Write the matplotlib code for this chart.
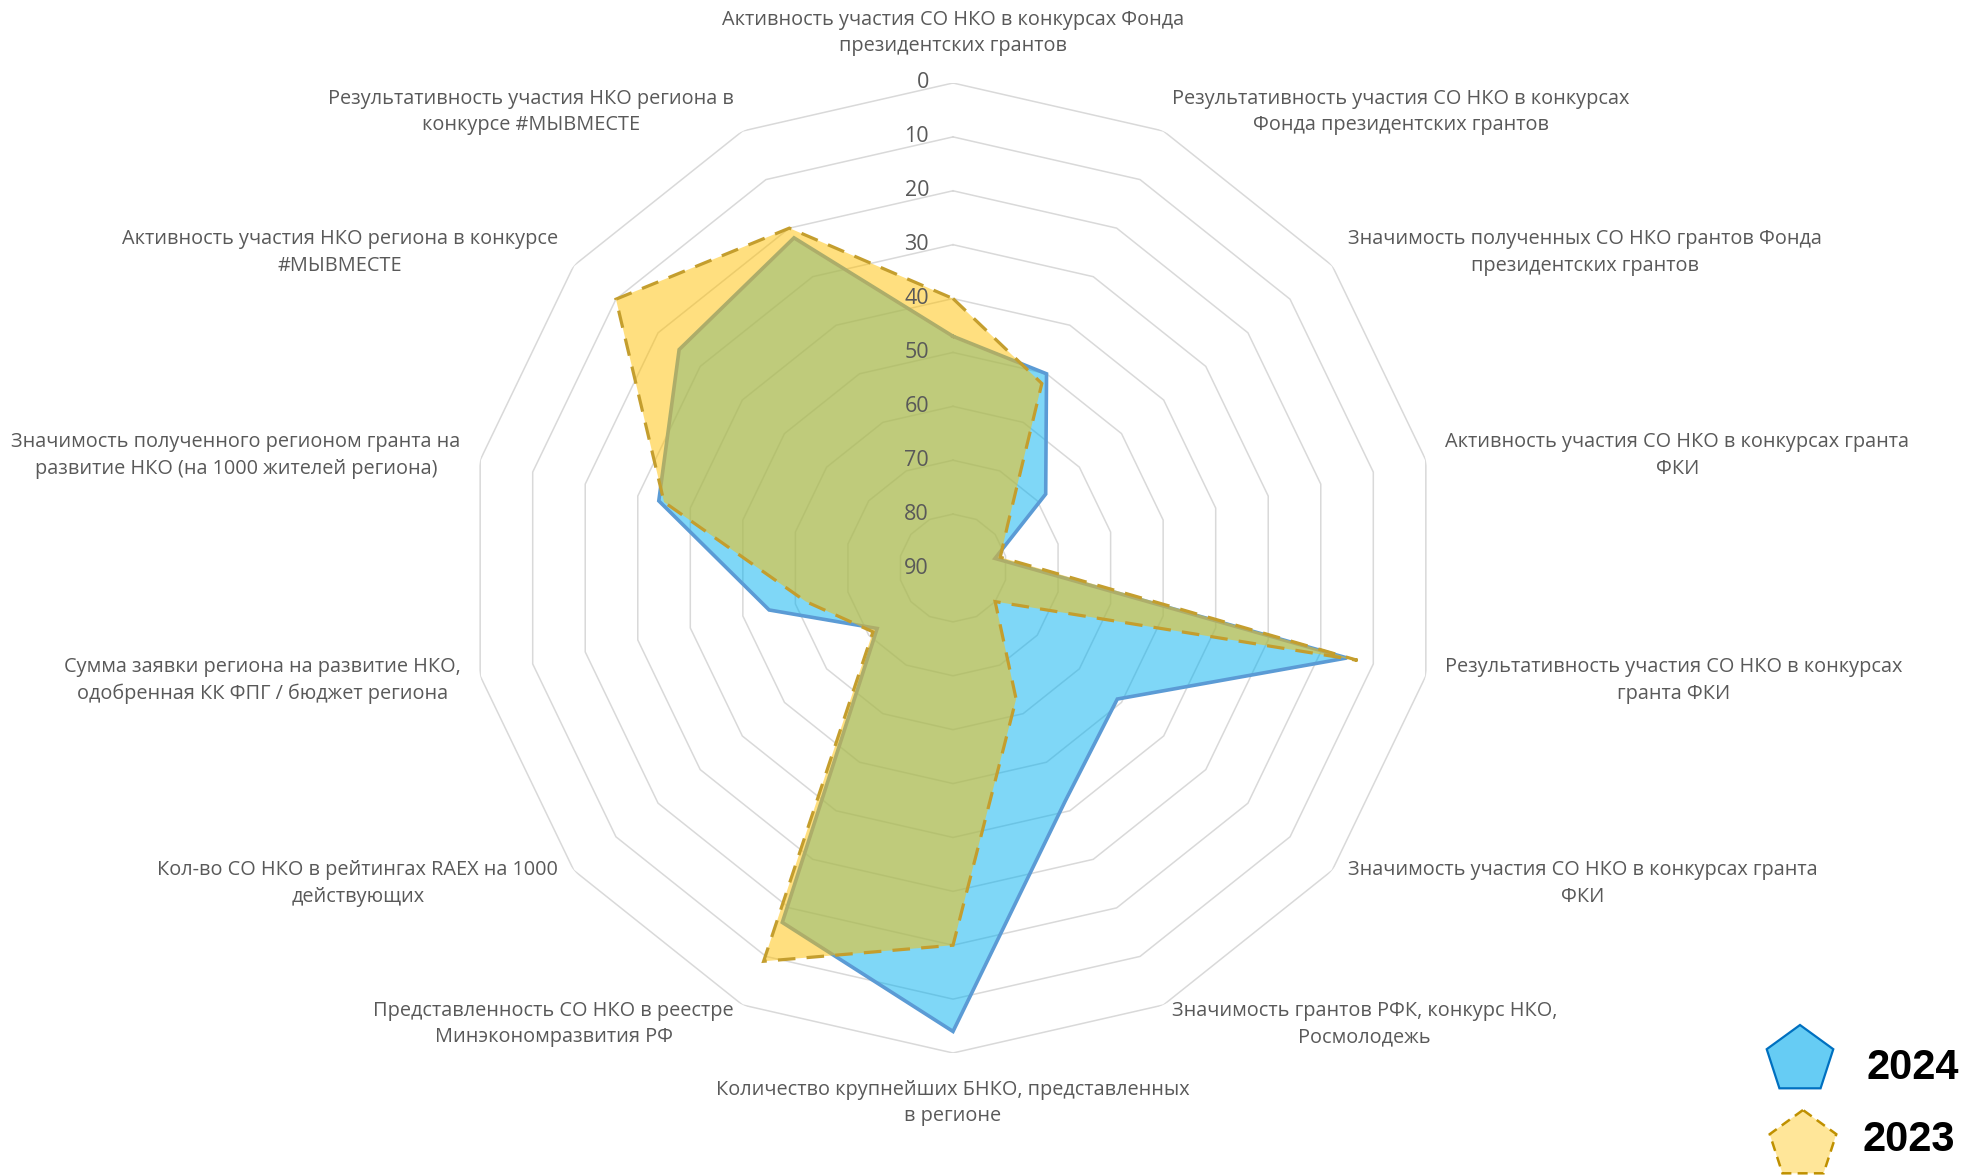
import numpy as np
import matplotlib
matplotlib.use('Agg')
import matplotlib.pyplot as plt
from matplotlib.patches import RegularPolygon

plt.rcParams['font.family'] = ['Open Sans', 'DejaVu Sans']

# categories, clockwise from the top
labels = [
    'Активность участия СО НКО в конкурсах Фонда\nпрезидентских грантов',
    'Результативность участия СО НКО в конкурсах\nФонда президентских грантов',
    'Значимость полученных СО НКО грантов Фонда\nпрезидентских грантов',
    'Активность участия СО НКО в конкурсах гранта\nФКИ',
    'Результативность участия СО НКО в конкурсах\nгранта ФКИ',
    'Значимость участия СО НКО в конкурсах гранта\nФКИ',
    'Значимость грантов РФК, конкурс НКО,\nРосмолодежь',
    'Количество крупнейших БНКО, представленных\nв регионе',
    'Представленность СО НКО в реестре\nМинэкономразвития РФ',
    'Кол-во СО НКО в рейтингах RAEX на 1000\nдействующих',
    'Сумма заявки региона на развитие НКО,\nодобренная КК ФПГ / бюджет региона',
    'Значимость полученного регионом гранта на\nразвитие НКО (на 1000 жителей региона)',
    'Активность участия НКО региона в конкурсе\n#МЫВМЕСТЕ',
    'Результативность участия НКО региона в\nконкурсе #МЫВМЕСТЕ',
]

# places (lower is better, axis reversed)
vals_2024 = [47, 50, 68, 82, 15, 51, 42, 4, 17, 72, 55, 34, 25, 22]
vals_2023 = [40, 52, 77, 81, 13, 80, 63, 20, 9, 71, 62, 35, 10, 20]

ticks = [0, 10, 20, 30, 40, 50, 60, 70, 80, 90]
series_names = ['2024', '2023']

W, H = 1986, 1175
fig = plt.figure(figsize=(W / 100, H / 100), dpi=100)

cx, cy, R = 953, 568, 485
ax = fig.add_axes([(cx - R) / W, (H - cy - R) / H, 2 * R / W, 2 * R / H], projection='polar')
ax.set_theta_zero_location('N')
ax.set_theta_direction(-1)
ax.set_ylim(90, 0)
ax.grid(False)
ax.set_xticks([])
ax.set_yticks([])
ax.spines['polar'].set_visible(False)
ax.patch.set_visible(False)

n = len(labels)
ang = np.linspace(0, 2 * np.pi, n, endpoint=False)
ang_c = np.append(ang, ang[0])

# polygon grid
for lv in ticks[:-1]:
    ax.plot(ang_c, [lv] * (n + 1), color='#D9D9D9', lw=1.1, zorder=1)

# 2024
v24 = np.append(vals_2024, vals_2024[0])
ax.fill(ang_c, v24, color='#00B0F0', alpha=0.5, lw=0, zorder=2)
ax.plot(ang_c, v24, color='#5B9BD5', lw=2.6, zorder=3, solid_joinstyle='miter')

# 2023
v23 = np.append(vals_2023, vals_2023[0])
ax.fill(ang_c, v23, color='#FFC000', alpha=0.5, lw=0, zorder=4)
ax.plot(ang_c, v23, color='#C49E2E', lw=2.3, ls=(0, (5.5, 3.5)), zorder=5,
        dash_joinstyle='miter')

# radial tick labels
for lv in ticks:
    ax.annotate(str(lv), xy=(0, lv), xytext=(-24, 0), textcoords='offset pixels',
                ha='right', va='center', fontsize=15.5, color='#595959', zorder=6)

# category labels
for a, lab in zip(ang, labels):
    s, c = np.sin(a), np.cos(a)
    if abs(s) < 0.01:
        ha, dx, dy = 'center', 0, 50 * np.sign(c)
    else:
        ha = 'left' if s > 0 else 'right'
        dx, dy = 20 * s, 21 * c
    ax.annotate(lab, xy=(a, 0), xytext=(dx, dy), textcoords='offset pixels',
                ha=ha, va='center', multialignment='center', fontsize=14.3,
                color='#595959', linespacing=1.45, annotation_clip=False)

# legend
lax = fig.add_axes([1740 / W, 0, 120 / W, 175 / H])
lax.set_xlim(0, 120)
lax.set_ylim(0, 175)
lax.axis('off')
lax.add_patch(RegularPolygon((60, 115), 5, radius=35, facecolor='#66CCF4',
                             edgecolor='#0070C0', lw=1.6))
lax.add_patch(RegularPolygon((63, 30), 5, radius=35, facecolor='#FFE699',
                             edgecolor='#BF9000', lw=1.8, ls=(0, (4, 2.5))))
fig.text(1866 / W, 1 - 1068 / H, series_names[0], fontsize=30, fontweight='bold',
         family='Liberation Sans', ha='left', va='center', color='black')
fig.text(1862 / W, 1 - 1140 / H, series_names[1], fontsize=30, fontweight='bold',
         family='Liberation Sans', ha='left', va='center', color='black')

fig.savefig('out.png', dpi=100)
